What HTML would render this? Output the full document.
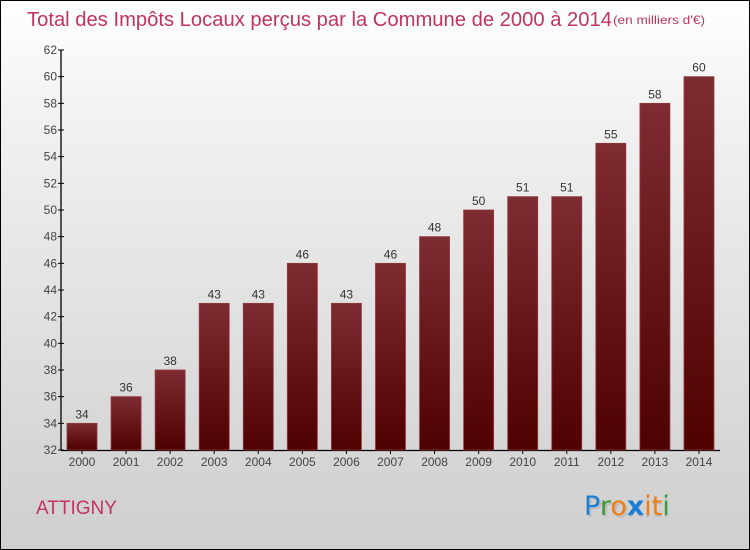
<!DOCTYPE html>
<html><head><meta charset="utf-8"><style>
html,body{margin:0;padding:0}
body{width:750px;height:550px;overflow:hidden;font-family:"Liberation Sans",sans-serif}
#wrap{position:absolute;left:0;top:0;width:748px;height:548px;border:1px solid #000;background:linear-gradient(#ffffff,#f2f2f2 20%,#d9d9d9 75%,#cfcfcf)}
</style></head><body>
<div id="wrap">
<svg id="chart" width="750" height="550" style="position:absolute;left:-1px;top:-1px">
<defs><linearGradient id="bg" x1="0" y1="0" x2="0" y2="1"><stop offset="0" stop-color="#7e2c32"/><stop offset="1" stop-color="#4f0000"/></linearGradient></defs>
<text x="27" y="26" font-size="20" fill="#c0345e" textLength="585" lengthAdjust="spacingAndGlyphs">Total des Impôts Locaux perçus par la Commune de 2000 à 2014</text>
<text x="613" y="24" font-size="12" fill="#c0345e" textLength="92" lengthAdjust="spacingAndGlyphs">(en milliers d'€)</text>
<text x="36" y="514" font-size="19" fill="#c0345e">ATTIGNY</text>
<g font-size="27" font-family="'DejaVu Sans',sans-serif">
<text x="586" y="517" fill="#bbb">Proxiti</text>
<text x="584" y="515"><tspan fill="#1a7fd4">P</tspan><tspan fill="#3a9a3a">r</tspan><tspan fill="#f07d10">o</tspan><tspan fill="#1a7fd4" font-weight="bold">x</tspan><tspan fill="#f07d10">i</tspan><tspan fill="#f07d10">t</tspan><tspan fill="#3a9a3a">i</tspan></text>
</g>
</svg>
</div>
<script>
const categories=["2000","2001","2002","2003","2004","2005","2006","2007","2008","2009","2010","2011","2012","2013","2014"];
const values=[34,36,38,43,43,46,43,46,48,50,51,51,55,58,60];
const yTicks=[32,34,36,38,40,42,44,46,48,50,52,54,56,58,60,62];
const svg=document.getElementById('chart');const NS='http://www.w3.org/2000/svg';
const yMin=32,yMax=62,y0=450,y1=50;
function y(v){return y0-(v-yMin)/(yMax-yMin)*(y0-y1);}
function x(i){return 82+i*44.07;}
function mk(t,a){const e=document.createElementNS(NS,t);for(const k in a)e.setAttribute(k,a[k]);svg.appendChild(e);return e;}
let ax=mk('line',{x1:61,y1:50,x2:61,y2:450,stroke:'#000','stroke-width':1.3});


let xa=mk('line',{x1:61,y1:450.5,x2:720,y2:450.5,stroke:'#000','stroke-width':1.3});


yTicks.forEach(v=>{
 const t=mk('line',{x1:58,x2:64,y1:y(v),y2:y(v),stroke:'#000'});
 
 
 const l=mk('text',{x:57,y:y(v)+4,'text-anchor':'end','font-size':12,fill:'#444'});l.textContent=v;
 
 
});
categories.forEach((c,i)=>{
 const cx=x(i),v=values[i];
 const t=mk('line',{x1:cx,x2:cx,y1:450,y2:454,stroke:'#000'});
 
 
 const b=mk('rect',{x:cx-15,y:y(v),width:30,height:y0-y(v),fill:'url(#bg)',stroke:'#8e3a40','stroke-width':0.8});
 
 
 const vl=mk('text',{x:cx,y:y(v)-5,'text-anchor':'middle','font-size':12,fill:'#333'});vl.textContent=v;
 
 
 const xl=mk('text',{x:cx,y:466,'text-anchor':'middle','font-size':12,fill:'#444'});xl.textContent=c;
 
 
});
</script>
</body></html>
